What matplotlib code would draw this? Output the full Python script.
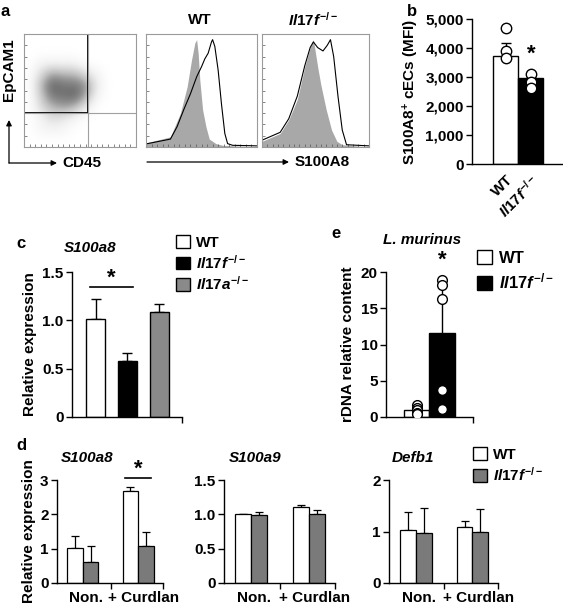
import numpy as np
import matplotlib
matplotlib.use("Agg")
import matplotlib.pyplot as plt
from matplotlib.patches import Patch, Rectangle

plt.rcParams["font.family"] = ["Liberation Sans", "DejaVu Sans"]
plt.rcParams["font.weight"] = "bold"
plt.rcParams["axes.labelweight"] = "bold"
plt.rcParams["axes.titleweight"] = "bold"
plt.rcParams["mathtext.fontset"] = "custom"
plt.rcParams["mathtext.rm"] = "Liberation Sans:bold"
plt.rcParams["mathtext.it"] = "Liberation Sans:italic:bold"
plt.rcParams["mathtext.bf"] = "Liberation Sans:bold"
plt.rcParams["axes.linewidth"] = 1.0

KO_F = r"$\mathit{Il17f}^{\mathit{-/-}}$"
KO_A = r"$\mathit{Il17a}^{\mathit{-/-}}$"
GREY = "#7a7a7a"

# ---- a: flow cytometry ----
# EpCAM1 vs CD45 dot density, rows top -> bottom, columns left -> right
dot_density = [
    [0, 0, 0, 0, 0, 0, 0, 0, 0, 0],
    [0, 0, 0, 0, 0, 0, 0, 0, 0, 0],
    [0, 1, 1, 1, 1, 0, 0, 0, 0, 0],
    [0, 3, 6, 5, 5, 3, 1, 0, 0, 0],
    [0, 5, 9, 8, 8, 7, 2, 0, 0, 0],
    [0, 4, 8, 8, 9, 6, 1, 0, 0, 0],
    [0, 3, 5, 6, 5, 2, 0, 0, 0, 0],
    [0, 1, 3, 2, 1, 0, 0, 0, 0, 0],
    [0, 1, 1, 1, 0, 0, 0, 0, 0, 0],
    [0, 0, 0, 0, 0, 0, 0, 0, 0, 0],
]
gate_cd45 = 0.57
gate_epcam = 0.30

wt_iso_x = [0.0, 0.015, 0.22, 0.31, 0.37, 0.41, 0.44, 0.456, 0.47, 0.485, 0.51, 0.54, 0.57, 0.63, 0.69, 1.0]
wt_iso_y = [0.03, 0.04, 0.09, 0.30, 0.53, 0.77, 0.92, 0.95, 0.83, 0.59, 0.33, 0.18, 0.07, 0.03, 0.015, 0.0]
wt_s_x = [0.0, 0.015, 0.22, 0.28, 0.34, 0.40, 0.456, 0.50, 0.53, 0.56, 0.59, 0.60, 0.62, 0.65, 0.68, 0.71, 0.735, 0.78, 1.0]
wt_s_y = [0.03, 0.03, 0.07, 0.18, 0.33, 0.47, 0.62, 0.71, 0.78, 0.83, 0.93, 0.95, 0.89, 0.68, 0.38, 0.12, 0.03, 0.015, 0.01]
ko_iso_x = [0.0, 0.17, 0.25, 0.33, 0.40, 0.45, 0.48, 0.52, 0.55, 0.60, 0.65, 0.70, 0.75, 1.0]
ko_iso_y = [0.05, 0.12, 0.24, 0.42, 0.71, 0.88, 0.95, 0.71, 0.55, 0.33, 0.15, 0.05, 0.02, 0.0]
ko_s_x = [0.0, 0.17, 0.25, 0.33, 0.40, 0.45, 0.48, 0.52, 0.57, 0.61, 0.64, 0.67, 0.71, 0.75, 0.79, 1.0]
ko_s_y = [0.06, 0.13, 0.25, 0.45, 0.72, 0.88, 0.93, 0.88, 0.85, 0.90, 0.95, 0.80, 0.45, 0.15, 0.02, 0.01]

# ---- b ----
b_labels = ["WT", KO_F]
b_means = [3720, 2950]
b_err = [450, 120]
b_wt_pts = [4690, 3900, 3650]
b_ko_pts = [3120, 2820, 2630]

# ---- c ----
c_labels = ["WT", KO_F, KO_A]
c_means = [1.01, 0.58, 1.09]
c_err = [0.21, 0.08, 0.08]

# ---- e ----
e_labels = ["WT", KO_F]
e_means = [1.0, 11.6]
e_err = [0.3, 7.3]
e_wt_pts = [1.6, 1.2, 0.9, 0.6, 0.4]
e_ko_pts = [18.9, 18.2, 16.3, 3.7, 1.1]

# ---- d ----
d_genes = ["S100a8", "S100a9", "Defb1"]
d_conditions = ["Non.", "+ Curdlan"]
d_wt_means = [[1.02, 2.68], [1.0, 1.10], [1.02, 1.08]]
d_wt_err = [[0.35, 0.12], [0.01, 0.04], [0.35, 0.12]]
d_ko_means = [[0.61, 1.08], [0.99, 1.01], [0.98, 1.0]]
d_ko_err = [[0.47, 0.41], [0.05, 0.06], [0.47, 0.43]]
d_ymax = [3, 1.5, 2]
d_yticks = [[0, 1, 2, 3], [0, 0.5, 1.0, 1.5], [0, 1, 2]]
d_yticklabels = [["0", "1", "2", "3"], ["0", "0.5", "1.0", "1.5"], ["0", "1", "2"]]

W, H = 563, 609
fig = plt.figure(figsize=(W / 100, H / 100), dpi=100)


def px_axes(l, t, r, b):
    return fig.add_axes([l / W, 1 - b / H, (r - l) / W, (b - t) / H])


def bar_style(ax, fs=11):
    for s in ["top", "right"]:
        ax.spines[s].set_visible(False)
    ax.tick_params(axis="y", direction="out", length=4, width=1, labelsize=fs, pad=2)
    ax.tick_params(axis="x", direction="out", length=4, width=1, labelsize=fs)


def flow_style(ax):
    for s in ax.spines.values():
        s.set_color("#9a9a9a")
        s.set_linewidth(0.8)
    ax.set_xlim(0, 1)
    ax.set_ylim(0, 1)
    ax.set_xticks(np.linspace(0, 1, 21))
    ax.set_yticks(np.linspace(0, 1, 11))
    ax.tick_params(direction="in", length=2, width=0.5, colors="#555555",
                   labelbottom=False, labelleft=False)


# ---- panel a ----
ax = px_axes(24, 34, 136, 147)
ax.imshow(dot_density, extent=[0, 1, 0, 1], cmap="Greys", vmin=0, vmax=13,
          interpolation="bicubic", aspect="auto")
ax.axvline(gate_cd45, color="#a0a0a0", lw=0.8)
ax.axhline(gate_epcam, color="#a0a0a0", lw=0.8)
ax.add_patch(Rectangle((0, gate_epcam), gate_cd45, 1 - gate_epcam, fill=False,
                       ec="black", lw=1.3))
flow_style(ax)

for (l, r), (ix, iy, sx, sy) in zip([(146, 257), (262, 369)],
                                    [(wt_iso_x, wt_iso_y, wt_s_x, wt_s_y),
                                     (ko_iso_x, ko_iso_y, ko_s_x, ko_s_y)]):
    ax = px_axes(l, 34, r, 147)
    ax.fill_between(ix, iy, color="#a8a8a8", lw=0)
    ax.plot(sx, sy, color="black", lw=0.8)
    flow_style(ax)

# ---- panel b ----
ax = px_axes(472, 19, 562, 164)
xb = np.arange(2)
ax.bar(xb, b_means, width=1.0, color=["white", "black"], edgecolor="black", lw=1, zorder=2)
ax.errorbar(xb, b_means, yerr=[[0, 0], b_err], fmt="none", ecolor="black",
            elinewidth=1, capsize=3.5, capthick=1, zorder=1)
ax.plot([0] * len(b_wt_pts), b_wt_pts, "o", ms=7.5, mfc="white", mec="black", mew=1, zorder=3)
ax.plot([1] * len(b_ko_pts), b_ko_pts, "o", ms=7.5, mfc="white", mec="black", mew=1, zorder=3)
ax.text(1.05, 3800, "*", ha="center", va="center", fontsize=16)
ax.set_xlim(-1.34, 2.26)
ax.set_ylim(0, 5000)
ax.set_yticks([0, 1000, 2000, 3000, 4000, 5000])
ax.set_yticklabels(["0", "1,000", "2,000", "3,000", "4,000", "5,000"])
ax.set_xticks(xb)
ax.set_xticklabels(b_labels, rotation=45, ha="right", rotation_mode="anchor")
bar_style(ax)
ax.tick_params(axis="x", length=0, pad=6)
ax.set_ylabel(r"S100A8$^{+}$ cECs (MFI)", fontsize=11, labelpad=3)

# ---- panel c ----
ax = px_axes(72, 272, 182, 417)
xc = np.arange(3)
ax.bar(xc, c_means, width=0.6, color=["white", "black", "#8a8a8a"], edgecolor="black", lw=1, zorder=2)
ax.errorbar(xc, c_means, yerr=[[0, 0, 0], c_err], fmt="none", ecolor="black",
            elinewidth=1, capsize=3.5, capthick=1, zorder=1)
ax.plot([-0.18, 1.18], [1.34, 1.34], color="black", lw=1.2)
ax.text(0.5, 1.44, "*", ha="center", va="center", fontsize=16, clip_on=False)
ax.set_xlim(-0.74, 2.72)
ax.set_ylim(0, 1.5)
ax.set_yticks([0, 0.5, 1.0, 1.5])
ax.set_yticklabels(["0", "0.5", "1.0", "1.5"])
ax.set_xticks([2.72])
ax.set_xticklabels([""])
bar_style(ax, 11)
ax.set_ylabel("Relative expression", fontsize=11, labelpad=4)
ax.legend(handles=[Patch(fc=c, ec="black", lw=1) for c in ["white", "black", "#8a8a8a"]],
          labels=c_labels, loc="upper left", bbox_to_anchor=(176 / W, 1 - 235 / H),
          bbox_transform=fig.transFigure, frameon=False, fontsize=11,
          handlelength=0.9, handleheight=0.9, handletextpad=0.4, labelspacing=0.25,
          borderpad=0, borderaxespad=0)

# ---- panel e ----
ax = px_axes(386, 272, 473, 417)
xe = np.arange(2)
ax.bar(xe, e_means, width=1.0, color=["white", "black"], edgecolor="black", lw=1, zorder=2)
ax.errorbar(xe, e_means, yerr=[[0, 0], e_err], fmt="none", ecolor="black",
            elinewidth=1, capsize=0, zorder=1)
ax.plot([0] * len(e_wt_pts), e_wt_pts, "o", ms=7, mfc="white", mec="black", mew=1, zorder=3)
ax.plot([1] * len(e_ko_pts), e_ko_pts, "o", ms=7, mfc="white", mec="black", mew=1, zorder=3)
ax.text(1.0, 21.6, "*", ha="center", va="center", fontsize=16, clip_on=False)
ax.set_xlim(-1.2, 2.22)
ax.set_ylim(0, 20)
ax.set_yticks([0, 5, 10, 15, 20])
ax.set_xticks([2.22])
ax.set_xticklabels([""])
bar_style(ax, 11)
ax.set_ylabel("rDNA relative content", fontsize=11, labelpad=4)
ax.legend(handles=[Patch(fc=c, ec="black", lw=1) for c in ["white", "black"]],
          labels=e_labels, loc="upper left", bbox_to_anchor=(477 / W, 1 - 250 / H),
          bbox_transform=fig.transFigure, frameon=False, fontsize=12,
          handlelength=0.9, handleheight=0.9, handletextpad=0.4, labelspacing=0.35,
          borderpad=0, borderaxespad=0)

# ---- panel d ----
d_boxes = [(57, 163), (224, 335), (389, 498)]
d_title_x = [87, 255, 413]
bw = 0.28
xd = np.arange(2)
for i, (l, r) in enumerate(d_boxes):
    ax = px_axes(l, 480, r, 583)
    ax.bar(xd - bw / 2, d_wt_means[i], width=bw, color="white", edgecolor="black", lw=0.9, zorder=2)
    ax.bar(xd + bw / 2, d_ko_means[i], width=bw, color=GREY, edgecolor="black", lw=0.9, zorder=2)
    ax.errorbar(xd - bw / 2, d_wt_means[i], yerr=[[0, 0], d_wt_err[i]], fmt="none",
                ecolor="black", elinewidth=0.9, capsize=3, capthick=0.9, zorder=1)
    ax.errorbar(xd + bw / 2, d_ko_means[i], yerr=[[0, 0], d_ko_err[i]], fmt="none",
                ecolor="black", elinewidth=0.9, capsize=3, capthick=0.9, zorder=1)
    ax.set_xlim(-0.47, 1.45)
    ax.set_ylim(0, d_ymax[i])
    ax.set_yticks(d_yticks[i])
    ax.set_yticklabels(d_yticklabels[i])
    ax.set_xticks([0.5, 1.45])
    ax.set_xticklabels(["", ""])
    bar_style(ax, 11)
    for j, cond in enumerate(d_conditions):
        ax.text(xd[j] + 0.05 + 0.05 * j, -0.15, cond, transform=ax.get_xaxis_transform(),
                ha="center", va="center", fontsize=11)
    fig.text(d_title_x[i] / W, 1 - 458 / H, d_genes[i], fontsize=11, style="italic",
             ha="center", va="center")
    if i == 0:
        ax.set_ylabel("Relative expression", fontsize=11, labelpad=3)
        ax.plot([1 - bw * 0.85, 1 + bw * 0.85], [3.06, 3.06], color="black", lw=1.2, clip_on=False)
        ax.text(1.0, 3.32, "*", ha="center", va="center", fontsize=16, clip_on=False)
    if i == 2:
        ax.legend(handles=[Patch(fc=c, ec="black", lw=1) for c in ["white", GREY]],
                  labels=["WT", KO_F], loc="upper left", bbox_to_anchor=(473 / W, 1 - 447 / H),
                  bbox_transform=fig.transFigure, frameon=False, fontsize=11,
                  handlelength=0.9, handleheight=0.9, handletextpad=0.4, labelspacing=0.3,
                  borderpad=0, borderaxespad=0)

# ---- overlay: panel letters, flow titles and arrows ----
ov = fig.add_axes([0, 0, 1, 1])
ov.set_xlim(0, W)
ov.set_ylim(H, 0)
ov.axis("off")
for letter, x, y in [("a", 5, 11), ("b", 412, 11), ("c", 21, 243), ("e", 336, 234), ("d", 21, 445)]:
    ov.text(x, y, letter, fontsize=12, ha="center", va="center")
ov.text(200, 20, "WT", fontsize=11, ha="center", va="center")
ov.text(313, 20, KO_F, fontsize=11, ha="center", va="center")
ov.text(90, 248, "S100a8", fontsize=11, style="italic", ha="center", va="center")
ov.text(422, 240, "L. murinus", fontsize=11, style="italic", ha="center", va="center")
ov.text(9, 70, "EpCAM1", fontsize=11, rotation=90, ha="center", va="center")
ov.text(62, 163, "CD45", fontsize=11, ha="left", va="center")
ov.text(295, 162, "S100A8", fontsize=11, ha="left", va="center")
arw = dict(arrowstyle="-|>", color="black", lw=0.9, mutation_scale=8, shrinkA=0, shrinkB=0)
ov.annotate("", xy=(9, 120), xytext=(9, 163), arrowprops=arw)
ov.annotate("", xy=(57, 163), xytext=(9, 163), arrowprops=arw)
ov.annotate("", xy=(289, 162), xytext=(147, 162), arrowprops=arw)

fig.savefig("out.png", dpi=100)
